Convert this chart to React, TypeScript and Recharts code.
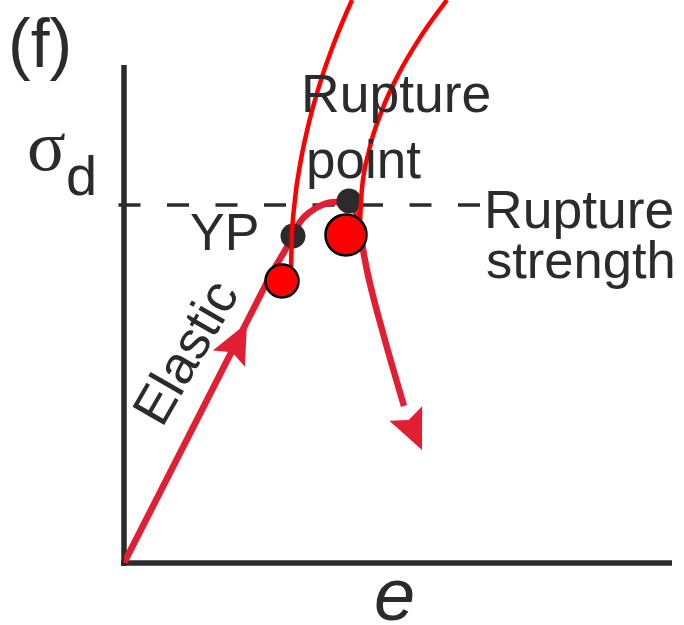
import React from 'react';
import { ComposedChart, Line, Scatter, XAxis, YAxis, ReferenceLine, ReferenceDot } from 'recharts';

// stress–strain curve (e, σd) in arbitrary units
const stressStrainCurve = [
  { x: 0, y: 0 },
  { x: 13.6, y: 26.7 },
  { x: 27.2, y: 53.4 },
  { x: 29.6, y: 58.1 },
  { x: 32.6, y: 63.2 },
  { x: 33.8, y: 65.4 },
  { x: 35.2, y: 68.2 },
  { x: 37.2, y: 70.2 },
  { x: 39.6, y: 71.6 },
  { x: 42.2, y: 72.2 },
  { x: 44.8, y: 72.0 },
  { x: 46.0, y: 71.0 },
  { x: 46.8, y: 68.6 },
  { x: 47.4, y: 65.2 },
  { x: 48.0, y: 61.6 },
  { x: 48.8, y: 57.6 },
  { x: 49.8, y: 53.4 },
  { x: 50.8, y: 49.6 },
  { x: 52.4, y: 43.8 },
  { x: 56.0, y: 31.4 },
];

const elasticArrow = [{ x: 24.6, y: 48.0, angle: -63 }];
const fallArrow = [{ x: 59.6, y: 22.6, angle: 66 }];

const keyPoints = [
  { x: 33.8, y: 65.4 }, // YP
  { x: 45.0, y: 72.4 }, // rupture point
];

const smallMarker = [{ x: 31.6, y: 56.4 }];
const bigMarker = [{ x: 44.4, y: 65.6 }];

const leaderLine1 = [
  { x: 33.4, y: 59.0 },
  { x: 33.54, y: 64.6 },
  { x: 34.18, y: 72.6 },
  { x: 35.38, y: 80.6 },
  { x: 37.12, y: 88.6 },
  { x: 39.4, y: 96.6 },
  { x: 42.24, y: 104.6 },
  { x: 45.6, y: 112.6 },
];

const leaderLine2 = [
  { x: 47.2, y: 68.2 },
  { x: 47.56, y: 74.6 },
  { x: 49.04, y: 82.6 },
  { x: 51.62, y: 90.6 },
  { x: 54.82, y: 97.6 },
  { x: 59.16, y: 105.0 },
  { x: 64.6, y: 112.6 },
];

const ruptureStrength = 71.6;
const xDomain: [number, number] = [0, 110];
const yDomain: [number, number] = [0, 112.6];

const SANS = '"Liberation Sans", Arial, Helvetica, sans-serif';
const INK = '#2b2b2b';
const CURVE = '#e21f32';

const ArrowHead = (props: any) => {
  const { cx, cy, payload } = props;
  if (cx == null || cy == null) return null;
  const L = 40;
  const W = 18;
  return (
    <g transform={`translate(${cx},${cy}) rotate(${payload.angle})`}>
      <polygon points={`0,0 ${-L},${-W} ${-L * 0.82},0 ${-L},${W}`} fill={CURVE} />
    </g>
  );
};

const circleShape = (r: number, fill: string, stroke?: string, sw?: number) => (props: any) => {
  const { cx, cy } = props;
  if (cx == null || cy == null) return null;
  return <circle cx={cx} cy={cy} r={r} fill={fill} stroke={stroke || 'none'} strokeWidth={sw || 0} />;
};

const textShape =
  (text: string, opts: { size: number; family?: string; italic?: boolean; anchor?: string; rotate?: number }) =>
  (props: any) => {
    const { cx, cy } = props;
    if (cx == null || cy == null) return null;
    return (
      <text
        x={cx}
        y={cy}
        fontSize={opts.size}
        fontFamily={opts.family || SANS}
        fontStyle={opts.italic ? 'italic' : 'normal'}
        textAnchor={(opts.anchor as any) || 'start'}
        fill={INK}
        dominantBaseline={opts.rotate != null ? 'central' : undefined}
        transform={opts.rotate != null ? `rotate(${opts.rotate},${cx},${cy})` : undefined}
      >
        {text}
      </text>
    );
  };

const labels: { text: string; x: number; y: number; opts: any }[] = [
  { text: '(f)', x: -23.2, y: 99.2, opts: { size: 68 } },
  { text: 'σ', x: -19.4, y: 78.6, opts: { size: 72, family: '"Liberation Serif", "DejaVu Serif", serif' } },
  { text: 'd', x: -11.6, y: 73.6, opts: { size: 56 } },
  { text: 'Rupture', x: 35.4, y: 90.2, opts: { size: 53.5 } },
  { text: 'point', x: 36.4, y: 77.0, opts: { size: 53 } },
  { text: 'Rupture', x: 72.0, y: 67.0, opts: { size: 53.5 } },
  { text: 'strength', x: 72.4, y: 57.0, opts: { size: 52.5 } },
  { text: 'YP', x: 13.2, y: 62.6, opts: { size: 52 } },
  { text: 'Elastic', x: 12.2, y: 42.2, opts: { size: 53, anchor: 'middle', rotate: -60 } },
  { text: 'e', x: 50.0, y: -11.4, opts: { size: 74, italic: true } },
];

export default function App() {
  return (
    <div style={{ position: 'absolute', left: 0, top: 0, width: 684, height: 625, background: '#fff' }}>
      <ComposedChart width={684} height={625} margin={{ top: 0, right: 10, bottom: 62, left: 124 }}>
        <XAxis type="number" dataKey="x" domain={xDomain} allowDataOverflow hide />
        <YAxis type="number" dataKey="y" domain={yDomain} allowDataOverflow hide />

        <ReferenceLine
          segment={[{ x: -1.1, y: ruptureStrength }, { x: 71.6, y: ruptureStrength }]}
          stroke={INK}
          strokeWidth={3.5}
          strokeDasharray="22 26.5"
          ifOverflow="visible"
          zIndex={100}
        />
        <ReferenceLine
          segment={[{ x: 0, y: -0.6 }, { x: 0, y: 99.6 }]}
          stroke={INK}
          strokeWidth={5.5}
          ifOverflow="visible"
          zIndex={100}
        />
        <ReferenceLine
          segment={[{ x: -0.6, y: 0 }, { x: 109.6, y: 0 }]}
          stroke={INK}
          strokeWidth={5.5}
          ifOverflow="visible"
          zIndex={100}
        />

        <Line
          data={stressStrainCurve}
          dataKey="y"
          type="monotone"
          stroke={CURVE}
          strokeWidth={6.5}
          dot={false}
          activeDot={false}
          isAnimationActive={false}
          zIndex={200}
        />
        <Scatter data={elasticArrow} dataKey="y" shape={ArrowHead} isAnimationActive={false} zIndex={300} />
        <Scatter data={fallArrow} dataKey="y" shape={ArrowHead} isAnimationActive={false} zIndex={300} />
        <Scatter data={keyPoints} dataKey="y" shape={circleShape(12.5, INK)} isAnimationActive={false} zIndex={400} />
        <Line
          data={leaderLine1}
          dataKey="y"
          type="monotone"
          stroke="#ff0000"
          strokeWidth={4.5}
          dot={false}
          activeDot={false}
          isAnimationActive={false}
          zIndex={500}
        />
        <Line
          data={leaderLine2}
          dataKey="y"
          type="monotone"
          stroke="#ff0000"
          strokeWidth={4.5}
          dot={false}
          activeDot={false}
          isAnimationActive={false}
          zIndex={500}
        />
        <Scatter
          data={smallMarker}
          dataKey="y"
          shape={circleShape(16.5, '#ff0000', '#000', 2.5)}
          isAnimationActive={false}
          zIndex={600}
        />
        <Scatter
          data={bigMarker}
          dataKey="y"
          shape={circleShape(20.5, '#ff0000', '#000', 2.5)}
          isAnimationActive={false}
          zIndex={600}
        />

        {labels.map((l, i) => (
          <ReferenceDot
            key={i}
            x={l.x}
            y={l.y}
            r={0}
            ifOverflow="visible"
            shape={textShape(l.text, l.opts)}
            zIndex={700}
          />
        ))}
      </ComposedChart>
    </div>
  );
}
